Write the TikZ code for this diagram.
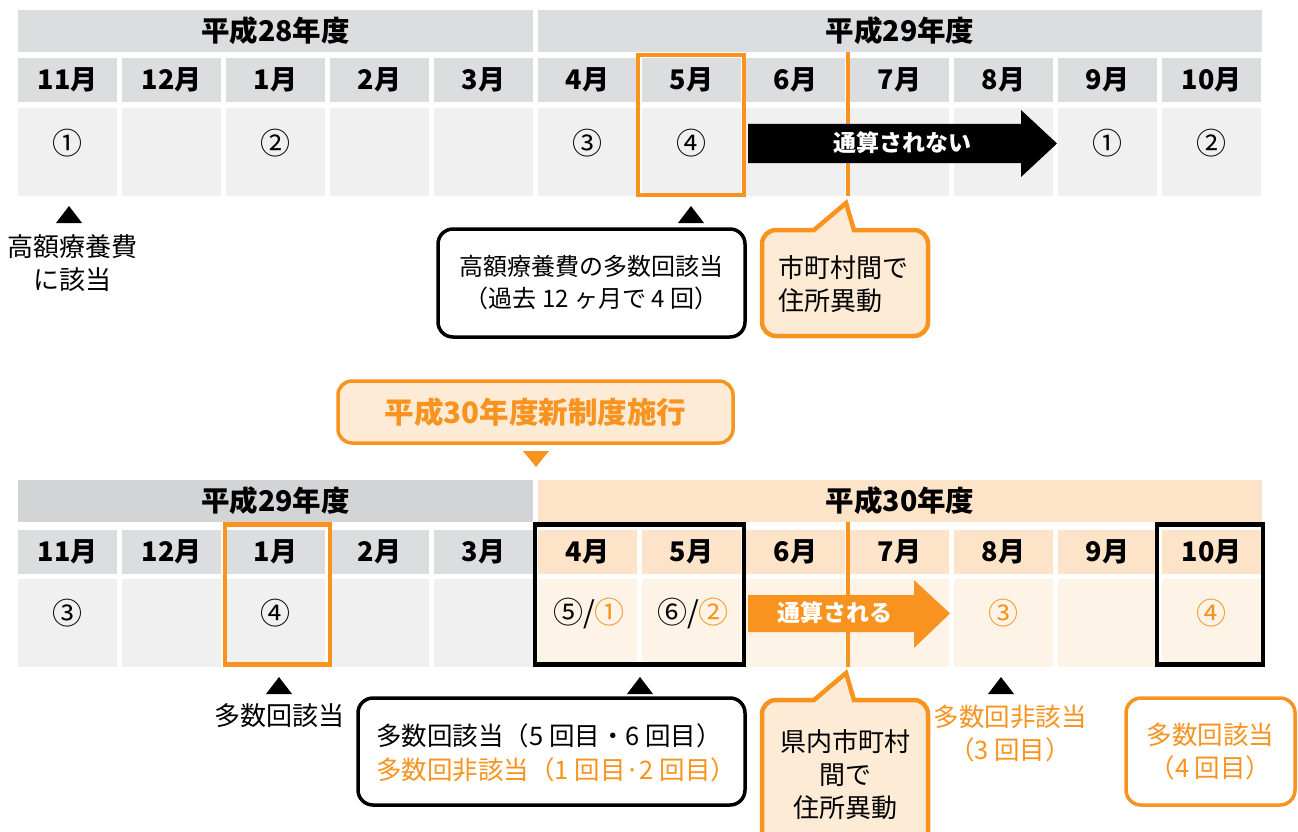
\documentclass[tikz,border=0pt]{standalone}
\usepackage{fontspec}
\setmainfont{Noto Sans CJK JP}
\definecolor{orng}{HTML}{F7931E}
\definecolor{lorng}{HTML}{FDEBD6}
\definecolor{gHdr}{HTML}{DCDDDF}
\definecolor{gHdrB}{HTML}{D3D4D6}
\definecolor{gData}{HTML}{F0F0F0}
\definecolor{oHdr}{HTML}{FDE4C8}
\definecolor{oData}{HTML}{FEF3E7}
\newcommand\myyearfont{\fontsize{28.5}{32}\selectfont\bfseries}
\newcommand\myhdrfont{\fontsize{27}{30}\selectfont\bfseries}
\newcommand\mynumfont{\fontsize{30}{32}\selectfont}
\newcommand\mylblfont{\fontsize{26}{33}\selectfont}
\newcommand\mycallout[8]{% x1 y1 x2 y2 tailL tipx tipy tailR
  \draw[calloutline] (#5,#2) -- (#6,#7) -- (#8,#2) -- ({#3-14},#2) arc (-90:0:14)
    -- (#3,{#4-14}) arc (0:90:14) -- ({#1+14},#4) arc (90:180:14)
    -- (#1,{#2+14}) arc (180:270:14) -- cycle;}
\begin{document}
\begin{tikzpicture}[x=1pt,y=-1pt,
  yearhdr/.style={inner sep=0, minimum height=42pt, font=\myyearfont},
  mcell/.style={inner sep=0, minimum width=99pt, minimum height=44pt, font=\myhdrfont},
  dcell/.style={inner sep=0, minimum width=99pt, minimum height=88pt},
  num/.style={inner sep=0, font=\mynumfont},
  lbl/.style={inner sep=0, font=\mylblfont, align=center},
  obox/.style={draw=orng, line width=4.5pt, inner sep=0},
  kbox/.style={draw=black, line width=4.5pt, inner sep=0},
  vline/.style={draw=orng, line width=4pt},
  calloutline/.style={draw=orng, fill=lorng, line width=4.5pt, line join=miter},
  rbox/.style={line width=3.5pt, rounded corners=15pt, inner sep=0},
  marker/.style={fill=black},
  bigarrow/.style={inner sep=0, font=\fontsize{23}{26}\selectfont\bfseries, text=white}]
\useasboundingbox (0,0) rectangle (1298,832);

% ===== top table =====
\node[yearhdr, fill=gHdr, minimum width=515pt] (ty1) at (275.5,31) {平成28年度};
\node[yearhdr, fill=gHdr, minimum width=724pt] (ty2) at (900,31) {平成29年度};
\foreach \i/\m in {0/11,1/12,2/1,3/2,4/3,5/4,6/5,7/6,8/7,9/8,10/9,11/10} {
  \node[mcell, fill=gHdr] (tm\i) at ({67.5+104*\i},80) {{\m}月};
  \node[dcell, fill=gData] (td\i) at ({67.5+104*\i},152) {};
}
\node[num] (tn0) at (67.5,143) {①};
\node[num] (tn2) at (275.5,143) {②};
\node[num] (tn5) at (587.5,143) {③};
\node[num] (tn6) at (691.5,143) {④};
\node[num] (tn10) at (1107.5,143) {①};
\node[num] (tn11) at (1211.5,143) {②};

\node[obox, minimum width=106pt, minimum height=140pt] (tbox) at (691,125) {};

\coordinate (tv1) at (847.5,52);
\coordinate (tv2) at (847.5,196);
\draw[vline] (tv1) -- (tv2);

\fill[black] (748,124) -- (1021,124) -- (1021,110) -- (1057,143.5) -- (1021,177) -- (1021,163) -- (748,163) -- cycle;
\node[bigarrow] (tarrow) at (902,143) {通算されない};

\fill[marker] (56,223) -- (82,223) -- (69,206) -- cycle;
\fill[marker] (678,223) -- (704,223) -- (691,206) -- cycle;

\node[lbl] (tl1) at (72,263) {高額療養費\\に該当};
\node[rbox, draw=black, fill=white, minimum width=307pt, minimum height=108pt, font=\fontsize{24}{32}\selectfont, align=center] (tl2) at (591.5,283) {高額療養費の多数回該当\\（過去 12 ヶ月で 4 回）};

\mycallout{762}{230}{928}{336}{814}{846}{203}{854}
\node[lbl, align=left, anchor=west] (tl3) at (778,284) {市町村間で\\住所異動};

% ===== middle =====
\node[rbox, draw=orng, fill=lorng, rounded corners=14pt, minimum width=395pt, minimum height=62pt,
  font=\fontsize{29.5}{32}\selectfont\bfseries, text=orng] (mid) at (535.5,412) {平成30年度新制度施行};
\fill[orng] (523,451) -- (549,451) -- (536,467) -- cycle;

% ===== bottom table =====
\node[yearhdr, fill=gHdrB, minimum width=515pt] (by1) at (275.5,501) {平成29年度};
\node[yearhdr, fill=oHdr, minimum width=724pt] (by2) at (900,501) {平成30年度};
\foreach \i/\m in {0/11,1/12,2/1,3/2,4/3} {
  \node[mcell, fill=gHdr] (bm\i) at ({67.5+104*\i},551.5) {{\m}月};
  \node[dcell, fill=gData] (bd\i) at ({67.5+104*\i},623) {};
}
\foreach \i/\m in {5/4,6/5,7/6,8/7,9/8,10/9,11/10} {
  \node[mcell, fill=oHdr] (bm\i) at ({67.5+104*\i},551.5) {{\m}月};
  \node[dcell, fill=oData] (bd\i) at ({67.5+104*\i},623) {};
}
\node[num] (bn0) at (67.5,613) {③};
\node[num] (bn2) at (275.5,613) {④};
\node[num] (bn5) at (589,613) {⑤/\textcolor{orng}{①}};
\node[num] (bn6) at (693,613) {⑥/\textcolor{orng}{②}};
\node[num, text=orng] (bn9) at (1003.5,613) {③};
\node[num, text=orng] (bn11) at (1211.5,613) {④};

\coordinate (bv1) at (847.5,522);
\coordinate (bv2) at (847.5,667);
\draw[vline] (bv1) -- (bv2);

\node[obox, minimum width=105pt, minimum height=140pt] (bbox1) at (277.5,594.5) {};
\node[kbox, minimum width=209pt, minimum height=140pt] (bbox2) at (639.5,594.5) {};
\node[kbox, minimum width=106pt, minimum height=140pt] (bbox3) at (1210,594.5) {};

\fill[orng] (748,595) -- (914,595) -- (914,580) -- (950,613.5) -- (914,648) -- (914,632) -- (748,632) -- cycle;
\node[bigarrow] (barrow) at (835,613) {通算される};

\fill[marker] (266,694) -- (292,694) -- (279,677) -- cycle;
\fill[marker] (627,694) -- (653,694) -- (640,677) -- cycle;
\fill[marker] (988,694) -- (1014,694) -- (1001,677) -- cycle;

\node[lbl] (bl1) at (279,716) {多数回該当};
\node[rbox, draw=black, fill=white, minimum width=387pt, minimum height=107pt] (bl2) at (551.5,751.5) {};
\node[lbl, align=left, anchor=west, font=\fontsize{25.5}{34}\selectfont] (bl2t) at (376,752.5) {多数回該当（5 回目・6 回目）\\\textcolor{orng}{多数回非該当（1 回目·2 回目）}};

\mycallout{762}{700}{928}{850}{814}{846}{673}{854}
\node[lbl] (bl3) at (845,775) {県内市町村\\間で\\住所異動};

\node[lbl, text=orng, font=\fontsize{25.5}{33}\selectfont] (bl4) at (1010,733) {多数回非該当\\（3 回目）};
\node[rbox, draw=orng, fill=white, minimum width=169pt, minimum height=107pt, font=\fontsize{25.5}{33}\selectfont, align=center, text=orng] (bl5) at (1210.5,751.5) {多数回該当\\（4 回目）};
\end{tikzpicture}
\end{document}
